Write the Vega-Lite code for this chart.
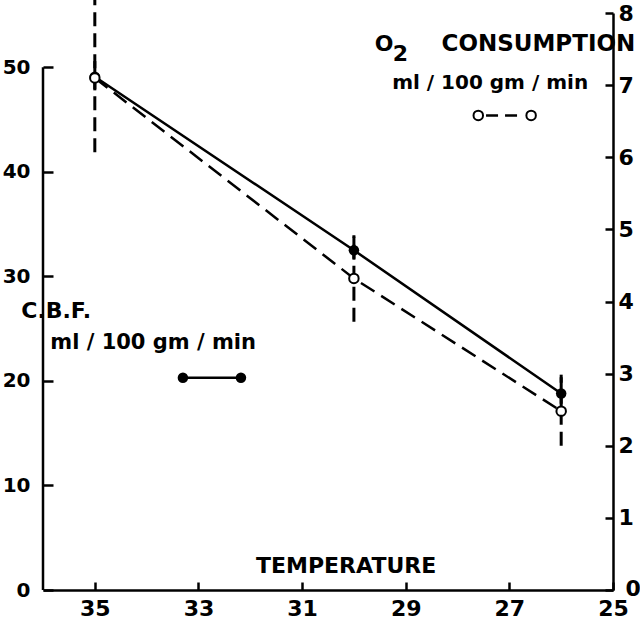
{
  "$schema": "https://vega.github.io/schema/vega-lite/v6.json",
  "width": 570,
  "height": 577,
  "autosize": "none",
  "padding": {"left": 43, "top": 13, "right": 27, "bottom": 29},
  "background": "white",
  "config": {
    "view": {"stroke": null},
    "axis": {
      "grid": false,
      "domainColor": "black",
      "tickColor": "black",
      "labelColor": "black",
      "domainWidth": 2.5,
      "tickWidth": 2.5,
      "labelFont": "DejaVu Sans",
      "labelFontWeight": "bold",
      "labelFontSize": 21,
      "title": null
    }
  },
  "data": {
    "values": [
      {"temp": 35, "cbf": 49.1, "cbf_lo": 47.8, "cbf_hi": 50.6, "o2": 7.1, "o2_lo": 6.07, "o2_hi": 8.2},
      {"temp": 30, "cbf": 32.5, "cbf_lo": 31.6, "cbf_hi": 33.8, "o2": 4.32, "o2_lo": 3.72, "o2_hi": 4.92},
      {"temp": 26, "cbf": 18.8, "cbf_lo": 17.4, "cbf_hi": 20.6, "o2": 2.48, "o2_lo": 2.0, "o2_hi": 2.95}
    ]
  },
  "encoding": {
    "x": {
      "field": "temp",
      "type": "quantitative",
      "scale": {"domain": [25, 36], "reverse": true, "nice": false, "zero": false},
      "axis": {"values": [35, 33, 31, 29, 27, 25], "tickSize": -8, "labelPadding": 16, "labelFontSize": 22, "labelFlush": false}
    }
  },
  "layer": [
    {
      "encoding": {
        "y": {
          "field": "cbf",
          "type": "quantitative",
          "scale": {"domain": [0, 55.2], "nice": false},
          "axis": {"orient": "left", "values": [0, 10, 20, 30, 40, 50], "domain": false, "tickSize": -10, "labelPadding": 23, "labelFontSize": 20, "labelFlush": false}
        }
      },
      "layer": [
        {
          "transform": [{"filter": "datum.temp == 35"}],
          "mark": {"type": "rule", "strokeWidth": 2.5, "color": "black"},
          "encoding": {"x": {"datum": 36}, "y": {"datum": 0}, "y2": {"datum": 50}}
        },
        {
          "mark": {"type": "rule", "strokeWidth": 3, "color": "black"},
          "encoding": {"y": {"field": "cbf_lo", "type": "quantitative"}, "y2": {"field": "cbf_hi"}}
        },
        {
          "mark": {"type": "line", "strokeWidth": 2.5, "color": "black"},
          "encoding": {}
        },
        {
          "mark": {"type": "point", "filled": true, "shape": "circle", "size": 110, "color": "black", "opacity": 1},
          "encoding": {}
        },
        {
          "transform": [{"filter": "datum.temp == 35"}],
          "mark": {"type": "text", "align": "left", "baseline": "alphabetic", "fontSize": 22, "font": "DejaVu Sans", "fontWeight": "bold", "color": "black"},
          "encoding": {"x": {"datum": 36.42}, "y": {"datum": 26.0}, "text": {"value": "C.B.F."}}
        },
        {
          "transform": [{"filter": "datum.temp == 35"}],
          "mark": {"type": "text", "align": "left", "baseline": "alphabetic", "fontSize": 21, "font": "DejaVu Sans", "fontWeight": "bold", "color": "black"},
          "encoding": {"x": {"datum": 35.86}, "y": {"datum": 23.1}, "text": {"value": "ml / 100 gm / min"}}
        },
        {
          "transform": [{"filter": "datum.temp == 35"}],
          "mark": {"type": "rule", "strokeWidth": 2.5, "color": "black"},
          "encoding": {"x": {"datum": 33.3}, "x2": {"datum": 32.18}, "y": {"datum": 20.3}}
        },
        {
          "transform": [{"filter": "datum.temp == 35"}],
          "mark": {"type": "point", "filled": true, "shape": "circle", "size": 110, "color": "black", "opacity": 1},
          "encoding": {"x": {"datum": 33.3}, "y": {"datum": 20.3}}
        },
        {
          "transform": [{"filter": "datum.temp == 35"}],
          "mark": {"type": "point", "filled": true, "shape": "circle", "size": 110, "color": "black", "opacity": 1},
          "encoding": {"x": {"datum": 32.18}, "y": {"datum": 20.3}}
        },
        {
          "transform": [{"filter": "datum.temp == 35"}],
          "mark": {"type": "text", "align": "center", "baseline": "alphabetic", "fontSize": 22, "font": "DejaVu Sans", "fontWeight": "bold", "color": "black"},
          "encoding": {"x": {"datum": 30.15}, "y": {"datum": 1.63}, "text": {"value": "TEMPERATURE"}}
        }
      ]
    },
    {
      "encoding": {
        "y": {
          "field": "o2",
          "type": "quantitative",
          "scale": {"domain": [0, 8], "nice": false},
          "axis": {
            "orient": "right",
            "values": [0, 1, 2, 3, 4, 5, 6, 7, 8],
            "tickSize": -8,
            "labelPadding": {"condition": {"test": "datum.value == 0", "value": 20}, "value": 13},
            "labelOffset": {"condition": {"test": "datum.value == 0", "value": -2}, "value": 0},
            "labelFontSize": 22,
            "labelFlush": false
          }
        }
      },
      "layer": [
        {
          "mark": {"type": "rule", "strokeWidth": 3, "color": "black", "strokeDash": [14, 7]},
          "encoding": {"y": {"field": "o2_lo", "type": "quantitative"}, "y2": {"field": "o2_hi"}}
        },
        {
          "mark": {"type": "line", "strokeWidth": 2.5, "color": "black", "strokeDash": [16, 8]},
          "encoding": {}
        },
        {
          "mark": {"type": "point", "filled": true, "shape": "circle", "size": 90, "fill": "white", "stroke": "black", "strokeWidth": 2, "opacity": 1},
          "encoding": {}
        },
        {
          "transform": [{"filter": "datum.temp == 35"}],
          "mark": {"type": "text", "align": "right", "baseline": "alphabetic", "fontSize": 23, "font": "DejaVu Sans", "fontWeight": "bold", "color": "black"},
          "encoding": {"x": {"datum": 24.57}, "y": {"datum": 7.48}, "text": {"value": "CONSUMPTION"}}
        },
        {
          "transform": [{"filter": "datum.temp == 35"}],
          "mark": {"type": "text", "align": "left", "baseline": "alphabetic", "fontSize": 22, "font": "DejaVu Sans", "fontWeight": "bold", "color": "black"},
          "encoding": {"x": {"datum": 29.6}, "y": {"datum": 7.48}, "text": {"value": "O"}}
        },
        {
          "transform": [{"filter": "datum.temp == 35"}],
          "mark": {"type": "text", "align": "left", "baseline": "alphabetic", "fontSize": 22, "font": "DejaVu Sans", "fontWeight": "bold", "color": "black"},
          "encoding": {"x": {"datum": 29.25}, "y": {"datum": 7.34}, "text": {"value": "2"}}
        },
        {
          "transform": [{"filter": "datum.temp == 35"}],
          "mark": {"type": "text", "align": "right", "baseline": "alphabetic", "fontSize": 20, "font": "DejaVu Sans", "fontWeight": "bold", "color": "black"},
          "encoding": {"x": {"datum": 25.48}, "y": {"datum": 6.95}, "text": {"value": "ml / 100 gm / min"}}
        },
        {
          "transform": [{"filter": "datum.temp == 35"}],
          "mark": {"type": "rule", "strokeWidth": 2.5, "color": "black", "strokeDash": [12, 7]},
          "encoding": {"x": {"datum": 27.45}, "x2": {"datum": 26.72}, "y": {"datum": 6.58}}
        },
        {
          "transform": [{"filter": "datum.temp == 35"}],
          "mark": {"type": "point", "filled": true, "shape": "circle", "size": 90, "fill": "white", "stroke": "black", "strokeWidth": 2, "opacity": 1},
          "encoding": {"x": {"datum": 27.6}, "y": {"datum": 6.58}}
        },
        {
          "transform": [{"filter": "datum.temp == 35"}],
          "mark": {"type": "point", "filled": true, "shape": "circle", "size": 90, "fill": "white", "stroke": "black", "strokeWidth": 2, "opacity": 1},
          "encoding": {"x": {"datum": 26.58}, "y": {"datum": 6.58}}
        }
      ]
    }
  ],
  "resolve": {"scale": {"y": "independent"}}
}
